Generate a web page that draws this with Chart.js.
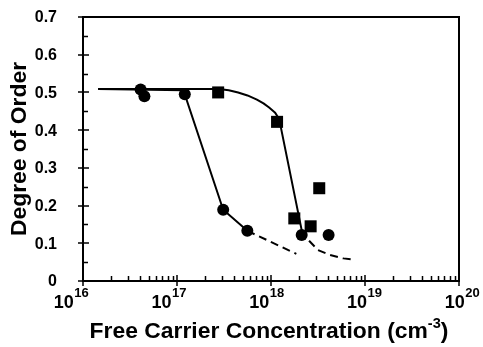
<!DOCTYPE html>
<html>
<head>
<meta charset="utf-8">
<script src="https://cdn.jsdelivr.net/npm/chart.js@4/dist/chart.umd.min.js"></script>
<style>
html,body{margin:0;padding:0;background:#fff;}
#c{display:block;}
</style>
</head>
<body>
<canvas id="c" width="483" height="347"></canvas>
<script>
// ---- data ----
const xTickExponents = [16, 17, 18, 19, 20];
const yTickLabels = ['0', '0.1', '0.2', '0.3', '0.4', '0.5', '0.6', '0.7'];
const yTickValues = [0, 0.1, 0.2, 0.3, 0.4, 0.5, 0.6, 0.7];
const xTitle = 'Free Carrier Concentration (cm';
const xTitleSup = '-3';
const xTitleEnd = ')';
const yTitle = 'Degree of Order';

const circleX = [4.1e16, 4.5e16, 1.21e17, 3.1e17, 5.6e17, 2.12e18, 4.1e18];
const circleY = [0.508, 0.490, 0.495, 0.189, 0.133, 0.122, 0.122];
const squareX = [2.74e17, 1.16e18, 1.77e18, 2.64e18, 3.26e18];
const squareY = [0.500, 0.422, 0.166, 0.145, 0.246];

const fitAX = [1.45e16, 1.17e17, 3.1e17, 5.6e17];
const fitAY = [0.509, 0.506, 0.189, 0.133];
const fitADashX = [5.6e17, 1.86e18];
const fitADashY = [0.133, 0.072];

const fitBX = [1.45e16, 2.8e17, 3.55e17, 4.47e17, 5.62e17, 7.08e17, 8.32e17, 9.55e17, 1.10e18, 1.17e18, 1.23e18, 2.12e18];
const fitBY = [0.509, 0.509, 0.506, 0.500, 0.492, 0.481, 0.471, 0.460, 0.447, 0.437, 0.426, 0.135];
const fitBDashX = [2.12e18, 2.49e18, 3.16e18, 4.24e18, 5.89e18, 7.52e18];
const fitBDashY = [0.135, 0.109, 0.082, 0.069, 0.060, 0.057];

function pts(xs, ys) { return xs.map((x, i) => ({ x: x, y: ys[i] })); }

const FONT = '"Liberation Sans", Arial, Helvetica, sans-serif';

const framePlugin = {
  id: 'frame',
  afterDraw(chart) {
    const ctx = chart.ctx;
    const a = chart.chartArea;
    const xs = chart.scales.x, ys = chart.scales.y;
    ctx.save();
    ctx.strokeStyle = '#000';
    ctx.lineWidth = 2;
    ctx.strokeRect(a.left, a.top, a.right - a.left, a.bottom - a.top);
    ctx.lineWidth = 1.5;
    ctx.beginPath();
    // x ticks
    for (let e = 16; e < 20; e++) {
      for (let m = 2; m <= 9; m++) {
        const px = Math.round(xs.getPixelForValue(m * Math.pow(10, e))) + 0.5;
        ctx.moveTo(px, a.bottom); ctx.lineTo(px, a.bottom - 5);
      }
    }
    xTickExponents.forEach(e => {
      const px = Math.round(xs.getPixelForValue(Math.pow(10, e)));
      ctx.moveTo(px, a.bottom + 5); ctx.lineTo(px, a.bottom - 6);
    });
    // y ticks
    for (let v = 0.05; v < 0.7; v += 0.1) {
      const py = Math.round(ys.getPixelForValue(v)) + 0.5;
      ctx.moveTo(a.left, py); ctx.lineTo(a.left + 5, py);
    }
    yTickValues.forEach(v => {
      const py = Math.round(ys.getPixelForValue(v));
      ctx.moveTo(a.left - 5, py); ctx.lineTo(a.left + 6, py);
    });
    ctx.stroke();

    ctx.fillStyle = '#000';
    // y tick labels
    ctx.font = 'bold 16px ' + FONT;
    ctx.textAlign = 'right';
    ctx.textBaseline = 'middle';
    yTickLabels.forEach((t, i) => {
      ctx.fillText(t, 57, ys.getPixelForValue(yTickValues[i]) + 1);
    });
    // x tick labels: 10 with superscript exponent (label row slightly wider than the axis)
    ctx.textBaseline = 'alphabetic';
    ctx.textAlign = 'left';
    const rowL = a.left - 12, rowR = a.right + 3;
    xTickExponents.forEach((e, i) => {
      const cx = rowL + (rowR - rowL) * i / (xTickExponents.length - 1);
      ctx.font = 'bold 18px ' + FONT;
      const w1 = ctx.measureText('10').width;
      ctx.font = 'bold 13px ' + FONT;
      const w2 = ctx.measureText(String(e)).width;
      const x0 = cx - (w1 + w2) / 2;
      ctx.font = 'bold 18px ' + FONT;
      ctx.fillText('10', x0, 308);
      ctx.font = 'bold 13px ' + FONT;
      ctx.fillText(String(e), x0 + w1 + 0.5, 297);
    });
    // x title
    ctx.save();
    ctx.translate(269, 338);
    ctx.scale(1.04, 1);
    ctx.font = 'bold 22px ' + FONT;
    const t1 = ctx.measureText(xTitle).width;
    const t3 = ctx.measureText(xTitleEnd).width;
    ctx.font = 'bold 14px ' + FONT;
    const t2 = ctx.measureText(xTitleSup).width;
    let tx = -(t1 + t2 + t3) / 2;
    ctx.font = 'bold 22px ' + FONT;
    ctx.fillText(xTitle, tx, 0);
    ctx.font = 'bold 14px ' + FONT;
    ctx.fillText(xTitleSup, tx + t1, -10);
    ctx.font = 'bold 22px ' + FONT;
    ctx.fillText(xTitleEnd, tx + t1 + t2, 0);
    ctx.restore();
    // y title
    ctx.translate(20, 149);
    ctx.rotate(-Math.PI / 2);
    ctx.scale(1.04, 1);
    ctx.font = 'bold 22px ' + FONT;
    ctx.textAlign = 'center';
    ctx.textBaseline = 'middle';
    ctx.fillText(yTitle, 0, 0);
    ctx.restore();
  }
};

new Chart(document.getElementById('c'), {
  type: 'scatter',
  data: {
    datasets: [
      { label: 'circles', data: pts(circleX, circleY), pointStyle: 'circle', pointRadius: 6,
        backgroundColor: '#000', borderColor: '#000', borderWidth: 0, showLine: false, order: 0 },
      { label: 'squares', data: pts(squareX, squareY), pointStyle: 'rect', pointRadius: 8.5,
        backgroundColor: '#000', borderColor: '#000', borderWidth: 0, showLine: false, order: 0 },
      { label: 'fitA', data: pts(fitAX, fitAY), showLine: true, pointRadius: 0,
        borderColor: '#000', borderWidth: 2, order: 1 },
      { label: 'fitAdash', data: pts(fitADashX, fitADashY), showLine: true, pointRadius: 0,
        borderColor: '#000', borderWidth: 2, borderDash: [8, 5], order: 1 },
      { label: 'fitB', data: pts(fitBX, fitBY), showLine: true, pointRadius: 0,
        borderColor: '#000', borderWidth: 2, borderJoinStyle: 'round', order: 1 },
      { label: 'fitBdash', data: pts(fitBDashX, fitBDashY), showLine: true, pointRadius: 0,
        borderColor: '#000', borderWidth: 2, borderDash: [8, 5], borderJoinStyle: 'round', order: 1 }
    ]
  },
  options: {
    responsive: false,
    animation: false,
    devicePixelRatio: 1,
    layout: { padding: { top: 17, right: 24, left: 0, bottom: 0 } },
    plugins: { legend: { display: false }, tooltip: { enabled: false } },
    scales: {
      x: {
        type: 'logarithmic', min: 1e16, max: 1e20,
        grid: { display: false }, border: { display: false },
        ticks: { display: false },
        afterFit(s) { s.height = 66; }
      },
      y: {
        type: 'linear', min: 0, max: 0.7,
        grid: { display: false }, border: { display: false },
        ticks: { display: false },
        afterFit(s) { s.width = 83; }
      }
    }
  },
  plugins: [framePlugin]
});
</script>
</body>
</html>
